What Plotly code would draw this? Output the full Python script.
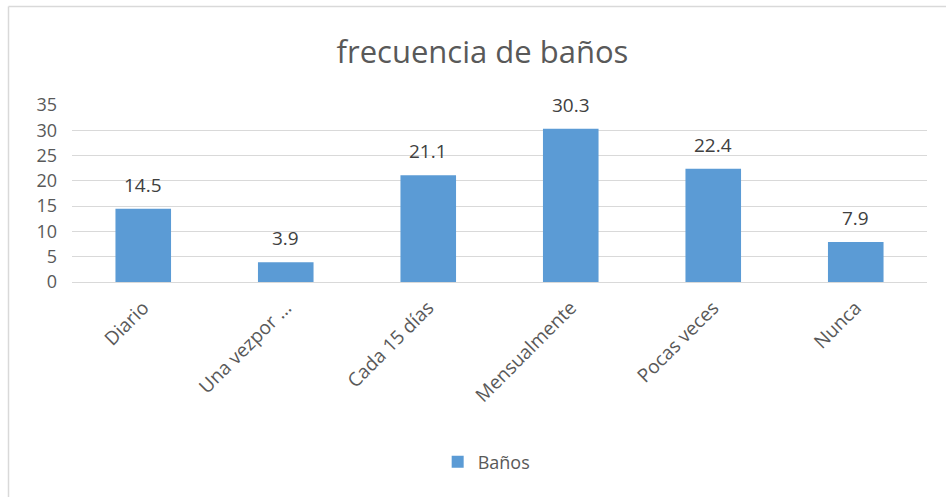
import plotly.graph_objects as go

categories = ["Diario", "Una vezpor ...", "Cada 15 días", "Mensualmente", "Pocas veces", "Nunca"]
values = [14.5, 3.9, 21.1, 30.3, 22.4, 7.9]
series_name = "Baños"
title_text = "frecuencia de baños"
y_ticks = [0, 5, 10, 15, 20, 25, 30, 35]

FONT = "Open Sans, Liberation Sans, sans-serif"
W, H = 946, 497
ML, MR, MT, MB = 72, 19, 105, 215
PW, PH = W - ML - MR, H - MT - MB

fig = go.Figure()
fig.add_trace(go.Bar(
    x=categories, y=values, name=series_name,
    marker=dict(color="#5B9BD5", line=dict(width=0)),
    width=0.39, showlegend=True,
))

for c, v in zip(categories, values):
    fig.add_annotation(x=c, y=v, text=f"{v:.1f}", showarrow=False,
                       yanchor="bottom", yshift=9,
                       font=dict(family=FONT, size=19, color="#404040"))

# outer chart border (left and top visible)
bx = (8.5 - ML) / PW
by = (MT + PH - 6.5) / PH
fig.add_shape(type="line", xref="paper", yref="paper", x0=bx, x1=bx, y0=by, y1=-5,
              line=dict(color="#d9d9d9", width=1.5))
fig.add_shape(type="line", xref="paper", yref="paper", x0=bx, x1=5, y0=by, y1=by,
              line=dict(color="#d9d9d9", width=1.5))

fig.update_layout(
    width=W, height=H,
    margin=dict(l=ML, r=MR, t=MT, b=MB, autoexpand=False),
    paper_bgcolor="white", plot_bgcolor="white",
    title=dict(text=title_text, x=0.51, xanchor="center", y=1 - 52 / H, yanchor="middle",
               font=dict(family=FONT, size=31, color="#595959")),
    font=dict(family=FONT, color="#595959"),
    xaxis=dict(tickangle=-45, tickfont=dict(size=19, color="#595959"),
               showgrid=False, showline=False, ticks="", range=[-0.5, 5.5],
               ticklabelstandoff=10),
    yaxis=dict(range=[0, 35], tickvals=y_ticks, showgrid=True, gridcolor="#d9d9d9",
               gridwidth=1, zeroline=True, zerolinecolor="#d9d9d9", zerolinewidth=1,
               tickfont=dict(size=18, color="#595959"), ticks="", ticklabelstandoff=14),
    legend=dict(orientation="h", x=0.485, xanchor="center", y=(MT + PH - 462) / PH,
                yanchor="middle", font=dict(size=18, color="#595959")),
    bargap=0.6,
)

fig.write_html("out.html", config={"displayModeBar": False},
               post_script="document.body.style.margin='0';document.body.style.overflow='hidden';")
